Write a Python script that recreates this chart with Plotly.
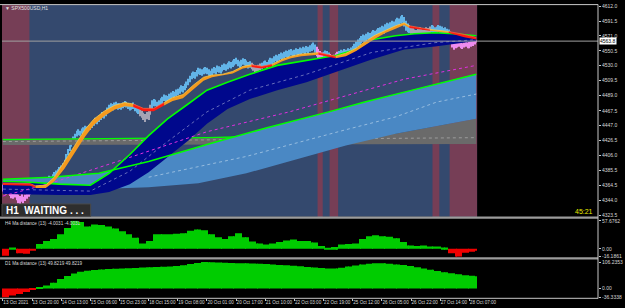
import numpy as np
import plotly.graph_objects as go

# ---------------- DATA ----------------
# H1 bars (high / low), one value per bar, 13 Oct 2021 -> 28 Oct 2021
bar_high = [
 4366,4364,4362,4365,4361,4358,4357,4360,4356,4352,4350,4353,4349,4352,4355,4358,4362,
 4364,4366,4368,4367,4366,4369,4372,4371,4374,4376,4378,4377,4380,4383,4385,4387,4390,
 4392,4395,4400,4408,4415,4420,4426,4432,4436,4440,4442,4440,4443,4445,4447,4446,4448,
 4449,4452,4455,4458,4457,4460,4463,4466,4465,4468,4472,4476,4478,4477,4479,4480,4478,
 4478,4477,4479,4481,4480,4478,4476,4477,4479,4476,4474,4472,4470,4468,4465,4463,4466,
 4470,4476,4482,4484,4483,4480,4482,4485,4487,4490,4489,4488,4491,4493,4495,4494,4497,
 4498,4500,4503,4502,4505,4508,4512,4516,4520,4522,4521,4524,4527,4526,4525,4527,4528,
 4527,4525,4523,4526,4528,4527,4530,4529,4528,4531,4533,4532,4534,4536,4535,4537,4539,
 4541,4538,4536,4538,4540,4539,4537,4535,4536,4534,4532,4530,4529,4531,4533,4534,4536,
 4537,4535,4538,4541,4540,4543,4545,4544,4546,4548,4547,4549,4551,4550,4552,4553,4551,
 4552,4554,4553,4555,4554,4556,4555,4557,4556,4558,4560,4562,4559,4556,4553,4550,4548,
 4549,4551,4550,4548,4546,4544,4545,4547,4549,4550,4552,4551,4553,4552,4554,4553,4555,
 4557,4560,4563,4566,4568,4571,4573,4572,4574,4576,4575,4577,4579,4578,4580,4582,4583,
 4585,4584,4587,4589,4588,4590,4592,4591,4594,4596,4595,4598,4600,4597,4592,4588,4586,
 4584,4582,4580,4579,4581,4583,4582,4580,4581,4583,4582,4584,4586,4585,4583,4584,4586,
 4585,4584,4582,4583,4581,4580,4577,4574,4566,4563,4562,4564,4563,4561,4562,4563,4562,
 4563,4565,4564,4566,4565]
bar_low = [
 4356,4354,4352,4354,4350,4347,4346,4348,4344,4340,4339,4342,4340,4343,4346,4349,4352,
 4356,4359,4361,4360,4359,4362,4364,4364,4366,4369,4371,4370,4373,4376,4378,4380,4383,
 4384,4388,4392,4398,4406,4412,4418,4424,4428,4432,4434,4433,4436,4438,4440,4439,4441,
 4441,4444,4447,4450,4449,4452,4455,4458,4457,4460,4463,4467,4469,4468,4470,4471,4469,
 4470,4469,4471,4473,4472,4470,4468,4469,4470,4467,4465,4463,4460,4458,4455,4452,4456,
 4455,4462,4470,4474,4474,4471,4473,4476,4478,4481,4480,4479,4482,4484,4486,4485,4488,
 4489,4491,4494,4493,4496,4499,4503,4507,4511,4513,4512,4515,4518,4517,4516,4518,4519,
 4518,4516,4514,4517,4519,4518,4521,4520,4519,4522,4524,4523,4525,4527,4526,4528,4530,
 4532,4529,4527,4529,4531,4530,4528,4526,4527,4525,4523,4521,4520,4522,4524,4525,4527,
 4528,4526,4529,4532,4531,4534,4536,4535,4537,4539,4538,4540,4542,4541,4543,4544,4542,
 4543,4545,4544,4546,4545,4547,4546,4548,4547,4549,4550,4552,4548,4543,4538,4532,4534,
 4538,4541,4540,4537,4533,4531,4535,4538,4540,4541,4543,4542,4544,4543,4545,4544,4546,
 4547,4550,4553,4556,4558,4561,4563,4562,4564,4566,4565,4567,4569,4568,4570,4572,4573,
 4575,4574,4577,4579,4578,4580,4582,4581,4584,4586,4585,4588,4589,4584,4578,4576,4575,
 4574,4572,4570,4569,4571,4573,4572,4570,4571,4573,4572,4574,4576,4575,4573,4574,4576,
 4575,4574,4572,4573,4570,4566,4560,4555,4552,4554,4555,4556,4554,4553,4555,4556,4554,
 4554,4556,4557,4559,4562]
# candle colour runs: (first bar, last bar, kind)
candle_runs = [(0, 17, "pink"), (18, 79, "blue"), (80, 86, "gray"), (87, 144, "blue"),
               (145, 150, "gray"), (151, 182, "blue"), (183, 186, "pink"), (187, 190, "blue"),
               (191, 195, "pink"), (196, 237, "blue"), (238, 249, "gray"), (250, 261, "blue"),
               (262, 276, "pink")]

# session highlight bands (bar ranges)
red_bands = [(-0.5, 15.5), (183.5, 186.5), (190.5, 195.5), (250.5, 254.5), (260.5, 276.5)]

# fast MA ribbon (orange / red)
rib_idx = [0,16,19,25,30,36,42,48,53,59,65,71,76,82,88,94,99,105,111,117,122,128,134,140,145,
           151,157,163,168,174,180,184,188,194,200,206,211,217,223,229,234,237,243,249,254,260,263,269,276]
rib_top = [4368,4367,4364,4365,4376,4398,4421,4442,4456,4467,4475,4479,4477,4471,4471,4479,4486,4490,
           4503,4514,4517,4518,4522,4529,4531,4529,4532,4539,4543,4546,4547,4548,4546,4543,4547,4554,
           4563,4572,4579,4585,4589,4585,4583,4580,4579,4577,4576,4573,4569]
rib_bot = [4365,4364,4361,4361,4370,4388,4410,4432,4448,4460,4469,4474,4473,4467,4467,4475,4481,4485,
           4497,4509,4514,4516,4519,4526,4528,4526,4529,4536,4540,4543,4544,4545,4543,4540,4543,4550,
           4558,4567,4575,4581,4586,4582,4580,4578,4577,4575,4573,4569,4566]
rib_trend = "ddUUUUUUUUUUdddUUUUUUUUUddUUUUUddUUUUUUUUddUUddd"

# green MA 1 (upper edge of navy band) and navy band lower edge
g1_idx = [0,16,33,51,62,74,85,96,108,119,131,144,160,177,194,206,215,229,240,252,263,276]
g1_val = [4370.4,4369.0,4366.3,4364.9,4381.3,4407.3,4433.3,4456.5,4477.0,4496.1,4507.1,4518.0,
          4530.3,4537.1,4544.0,4552.2,4565.8,4571.3,4574.0,4575.4,4574.0,4571.3]
nb_idx = [0,33,51,62,74,85,96,108,119,131,144,160,177,194,215,234,252,276]
nb_val = [4352.6,4351.3,4351.3,4355.4,4366.3,4382.7,4403.2,4426.4,4449.7,4470.2,4483.8,4496.1,
          4507.1,4520.7,4538.5,4552.2,4556.3,4564.0]
nd_idx = [0,28,51,74,96,119,144,177,215,252,276]
nd_val = [4359.5,4358.1,4356.7,4384.1,4425.1,4466.1,4496.1,4518.0,4548.1,4561.7,4565.8]

# magenta dotted MA
mg_idx = [0,28,74,119,167,200,234,276]
mg_val = [4349.9,4367.7,4403.2,4438.7,4466.1,4487.9,4511.2,4530.3]

# green MA 2 with light-blue band under it
g2_idx = [0,28,56,85,119,154,190,211,234,257,276]
g2_val = [4373.1,4375.9,4381.3,4397.7,4421.0,4444.2,4466.1,4479.7,4493.4,4507.1,4518.0]
lb_idx = [0,56,85,114,142,171,200,229,252,276]
lb_val = [4356.7,4359.5,4362.2,4367.7,4381.3,4400.5,4419.6,4436.0,4445.6,4456.5]
ld_idx = [85,142,200,229,253,276]
ld_val = [4375.9,4404.6,4441.5,4459.2,4479.7,4490.7]

# gray (daily) band
gy_idx = [0,85,142,200,229,252,276]
gy_top = [4429.2,4429.2,4430.5,4431.9,4436.0,4445.6,4456.5]
gyb_idx = [0,276]
gy_bot = [4420.3,4421.6]
gh_idx = [0,119,171,229]
gh_val = [4427.8,4430.5,4433.3,4437.4]
gd_idx = [0,276]
gd_val = [4425.1,4430.5]

bid_price = 4563.8
bid_text = "4563.8"

# indicator histograms: one value per H4 block (4 H1 bars)
h4_dist = [-14,3,-9,-10,-3,10,16,20,30,43,57.6762,55,46,50,49,46,42,36,30,23,11,16,30,30,30,31,32,37,
           40,38,30,24,20,26,32,24,15,11,9,11,14,17,19,16,16,13,6,2,4,9,10,11,20,26,28,26,25,22,14,
           7,6,7,5,5,3,-9,-16.1861,-8,-6,-4.0031]
d1_dist = [-36.3338,-28,-22,-14,-6,2,12,23,38,50,60,67,71,74,76,78,79,80,81,82,84,85,86,87,88,90,93,
           98,103,106.2353,106,105,104,103,102,101,100,99,98,96,94,93,91,89,86,84,82,80,80,83,88,92,
           96,99,101,101,99,96,94,90,85,80,75,70,65,61,57,53,51,49.8219]

date_labels = ["13 Oct 2021", "13 Oct 20:00", "14 Oct 13:00", "15 Oct 06:00", "15 Oct 23:00",
               "18 Oct 15:00", "19 Oct 08:00", "20 Oct 01:00", "20 Oct 17:00", "21 Oct 10:00",
               "22 Oct 03:00", "22 Oct 19:00", "25 Oct 12:00", "26 Oct 05:00", "26 Oct 22:00",
               "27 Oct 14:00", "28 Oct 07:00"]
date_bars = [0, 17, 34, 51, 68, 85, 102, 119, 136, 153, 170, 187, 204, 221, 238, 255, 272]

price_ticks = [4612.0, 4591.5, 4571.0, 4550.5, 4530.0, 4509.5, 4489.0, 4467.5, 4447.0, 4426.5,
               4406.0, 4385.5, 4364.5, 4344.0, 4323.5]
h4_ticks = [57.6762, 0.0, -16.1861]
h4_ticktext = ["57.6762", "0.00", "-16.1861"]
d1_ticks = [106.2353, 0.0, -36.3338]
d1_ticktext = ["106.2353", "0.00", "-36.3338"]

# ---------------- STYLE ----------------
BG_BLUE = "#34496e"
BAND_RED = "#763e56"
NAVY = "#00088c"
LBLUE = "#4a88c4"
GRAY = "#6a6a6a"
LIME = "#00ff00"
AXC = "#c8c8c8"
FONT = "Arial"
HIST_UP = "#00cc00"
HIST_DN = "#f00000"
candle_colors = {"blue": "#62b4e8", "pink": "#ee8cee", "gray": "#a4a4b4"}

N = len(bar_high)
xb = np.arange(N)

fig = go.Figure()


def poly(xt, yt, xbot, ybot, color):
    fig.add_trace(go.Scatter(x=list(xt) + list(xbot)[::-1], y=list(yt) + list(ybot)[::-1],
                             fill="toself", fillcolor=color, mode="lines", line=dict(width=0),
                             hoverinfo="skip", xaxis="x", yaxis="y"))


def line(xs, ys, color, width=1.4, dash=None):
    fig.add_trace(go.Scatter(x=xs, y=ys, mode="lines", hoverinfo="skip",
                             line=dict(color=color, width=width, dash=dash), xaxis="x", yaxis="y"))


# gray daily band + its line
poly(gy_idx, gy_top, gyb_idx, gy_bot, GRAY)
line(gd_idx, gd_val, "#a8a8a8", 0.8, "dot")
line(gh_idx, gh_val, LIME, 1.4)
# light-blue band
poly(g2_idx, g2_val, lb_idx, lb_val, LBLUE)
line(ld_idx, ld_val, "#a9c9e6", 0.8, "dot")
# navy band
poly(g1_idx, g1_val, nb_idx, nb_val, NAVY)
line(nd_idx, nd_val, "#7f86c8", 0.8, "dot")
# magenta dotted
line(mg_idx, mg_val, "#e030e0", 1.0, "dot")
# green lines
line(g2_idx, g2_val, LIME, 1.5)
line(g1_idx, g1_val, LIME, 1.6)

# candles
ccol = [None] * N
for a, b, k in candle_runs:
    for i in range(a, b + 1):
        ccol[i] = candle_colors[k]
hi = np.array(bar_high, float)
lo = np.array(bar_low, float)
fig.add_trace(go.Bar(x=xb, y=hi - lo, base=lo, width=0.6, marker=dict(color=ccol, line=dict(width=0)),
                     hoverinfo="skip", xaxis="x", yaxis="y"))

# ribbon by trend runs
k = 0
while k < len(rib_trend):
    j = k
    while j + 1 < len(rib_trend) and rib_trend[j + 1] == rib_trend[k]:
        j += 1
    xs = rib_idx[k:j + 2]
    col = "#f59a1e" if rib_trend[k] == "U" else "#ff1a10"
    poly(xs, rib_top[k:j + 2], xs, rib_bot[k:j + 2], col)
    edge = "#ffd24a" if rib_trend[k] == "U" else "#ff6a40"
    line(xs, rib_top[k:j + 2], edge, 0.7)
    k = j + 1

# histograms
h4 = np.repeat(np.array(h4_dist, float), 4)[:N]
d1 = np.repeat(np.array(d1_dist, float), 4)[:N]
fig.add_trace(go.Bar(x=xb, y=h4, width=0.5, marker=dict(color=[HIST_UP if v >= 0 else HIST_DN for v in h4], line=dict(width=0)),
                     hoverinfo="skip", xaxis="x", yaxis="y2"))
fig.add_trace(go.Bar(x=xb, y=d1, width=0.5, marker=dict(color=[HIST_UP if v >= 0 else HIST_DN for v in d1], line=dict(width=0)),
                     hoverinfo="skip", xaxis="x", yaxis="y3"))

# ---------------- LAYOUT ----------------
W, H = 625, 308
ML, MR, MT, MB = 2, 18, 2, 10
PW, PH = W - ML - MR, H - MT - MB


def py(pix):  # pixel row -> paper y
    return (H - MB - pix) / PH


def px(pix):  # pixel col -> paper x
    return (pix - ML) / PW


tickfont = dict(size=5, color="#d8d8d8", family=FONT)
shapes = [
    dict(type="rect", xref="x", yref="y domain", x0=-0.5, x1=276.5, y0=0, y1=1,
         fillcolor=BG_BLUE, line=dict(width=0), layer="below"),
]
for a, b in red_bands:
    shapes.append(dict(type="rect", xref="x", yref="y domain", x0=a, x1=b, y0=0, y1=1,
                       fillcolor=BAND_RED, line=dict(width=0), layer="below"))
shapes += [
    dict(type="line", xref="paper", yref="y", x0=0, x1=1, y0=bid_price, y1=bid_price,
         line=dict(color="#a0a0a0", width=1)),
    dict(type="rect", xref="paper", yref="paper", x0=px(0), x1=1, y0=py(218), y1=py(215.6),
         fillcolor="#9c9c9c", line=dict(width=0)),
    dict(type="rect", xref="paper", yref="paper", x0=px(0), x1=1, y0=py(259), y1=py(256.8),
         fillcolor="#9c9c9c", line=dict(width=0)),
    dict(type="line", xref="paper", yref="paper", x0=px(0), x1=1, y0=py(298.3), y1=py(298.3),
         line=dict(color=AXC, width=1)),
    dict(type="line", xref="paper", yref="paper", x0=px(0), x1=1, y0=py(1.6), y1=py(1.6),
         line=dict(color=AXC, width=1)),
    dict(type="line", xref="paper", yref="paper", x0=1, x1=1, y0=py(298.5), y1=py(1.5),
         line=dict(color=AXC, width=1)),
    dict(type="rect", xref="paper", yref="paper", x0=px(2), x1=px(92), y0=py(215.5), y1=py(203),
         fillcolor="#2e2e2e", line=dict(color="#4a4a4a", width=1)),
]

annotations = [
    dict(x=px(3), y=py(5), xref="paper", yref="paper", text="▼ SPX500USD,H1", showarrow=False,
         xanchor="left", yanchor="middle", font=dict(size=5, color="#e0e0e0", family=FONT)),
    dict(x=px(4), y=py(209.5), xref="paper", yref="paper", text="<b>H1  WAITING . . .</b>", showarrow=False,
         xanchor="left", yanchor="middle", font=dict(size=10, color="#ffffff", family=FONT)),
    dict(x=px(604), y=py(211), xref="paper", yref="paper", text="45:21", showarrow=False,
         xanchor="right", yanchor="middle", font=dict(size=7, color="#e8e800", family=FONT)),
    dict(x=px(3), y=py(222.5), xref="paper", yref="paper", text="H4 Ma distance (13) -4.0031 -4.0031",
         showarrow=False, xanchor="left", yanchor="middle", font=dict(size=4.6, color="#d8d8d8", family=FONT)),
    dict(x=px(3), y=py(263), xref="paper", yref="paper", text="D1 Ma distance (13) 49.8219 49.8219",
         showarrow=False, xanchor="left", yanchor="middle", font=dict(size=4.6, color="#d8d8d8", family=FONT)),
    dict(x=px(608), y=bid_price, xref="paper", yref="y", text=bid_text, showarrow=False,
         xanchor="left", yanchor="middle", bgcolor="#ffffff", borderpad=0,
         font=dict(size=5, color="#000000", family=FONT)),
]

fig.update_layout(
    width=W, height=H, margin=dict(l=ML, r=MR, t=MT, b=MB),
    paper_bgcolor="black", plot_bgcolor="black", showlegend=False, barmode="overlay",
    shapes=shapes, annotations=annotations,
    xaxis=dict(range=[-0.5, 347.0], domain=[0, 1], anchor="y3", showgrid=False, zeroline=False,
               showline=False, tickmode="array", tickvals=date_bars, ticktext=date_labels,
               ticks="outside", ticklen=2, tickcolor=AXC, tickfont=dict(size=4.6, color="#d8d8d8", family=FONT),
               tickangle=0, ticklabelposition="outside right", fixedrange=True),
    yaxis=dict(domain=[py(216), py(2)], range=[4616.4 - 1.3667 * 216, 4616.4 - 1.3667 * 2],
               side="right", anchor="x", showgrid=False, zeroline=False, showline=False,
               tickmode="array", tickvals=price_ticks, ticktext=[f"{v:.1f}" for v in price_ticks],
               ticks="outside", ticklen=2, tickcolor=AXC, tickfont=tickfont),
    yaxis2=dict(domain=[py(256.3), py(220)], range=[-16.1861, 57.6762], side="right", anchor="x",
                showgrid=False, zeroline=False, showline=False, tickmode="array", tickvals=h4_ticks,
                ticktext=h4_ticktext, ticks="outside", ticklen=2, tickcolor=AXC, tickfont=tickfont),
    yaxis3=dict(domain=[py(297.6), py(261.7)], range=[-36.3338, 106.2353], side="right", anchor="x",
                showgrid=False, zeroline=False, showline=False, tickmode="array", tickvals=d1_ticks,
                ticktext=d1_ticktext, ticks="outside", ticklen=2, tickcolor=AXC, tickfont=tickfont),
)

fig.write_html("out.html")
